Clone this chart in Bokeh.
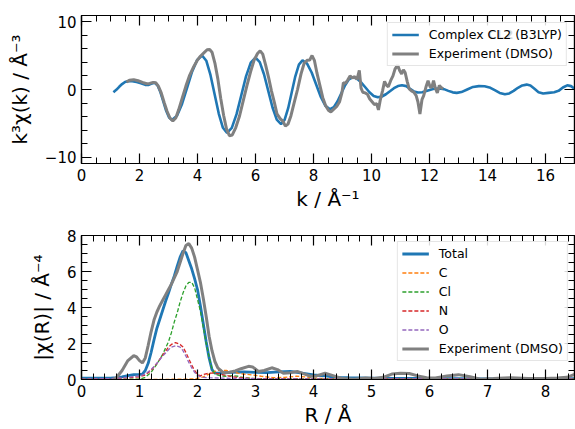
from bokeh.plotting import figure
from bokeh.models import LinearAxis, SingleIntervalTicker, Range1d, CustomJSTickFormatter, Label
from bokeh.layouts import column
from bokeh.embed import file_html
from bokeh.resources import INLINE

FONT = "DejaVu Sans"

# ---------------- top panel: k-space EXAFS ----------------
k_calc = [1.1, 1.2, 1.3, 1.4, 1.5, 1.63, 1.75, 1.9, 2.05, 2.2, 2.3, 2.4, 2.52,
          2.62, 2.72, 2.82, 2.92, 3.02, 3.12,
          3.293, 3.467, 3.64, 3.813, 3.987, 4.16,
          4.303, 4.447, 4.59, 4.733, 4.877, 5.02,
          5.183, 5.347, 5.51, 5.673, 5.837, 6.0,
          6.147, 6.293, 6.44, 6.587, 6.733, 6.88,
          7.003, 7.127, 7.25, 7.373, 7.497, 7.62,
          7.778, 7.937, 8.095, 8.253, 8.412, 8.57,
          8.7, 8.83, 8.96, 9.09, 9.22, 9.35,
          9.495, 9.64, 9.785, 9.93, 10.075, 10.22,
          10.358, 10.497, 10.635, 10.773, 10.912, 11.05,
          11.2, 11.33, 11.46, 11.6, 11.75, 11.95, 12.15, 12.35, 12.5, 12.65, 12.8,
          12.94, 13.1, 13.3, 13.5, 13.7, 13.9, 14.1, 14.25, 14.42, 14.6, 14.75,
          14.9, 15.05, 15.2, 15.35, 15.48, 15.62, 15.76, 15.92, 16.1, 16.3, 16.45,
          16.6, 16.75, 16.88, 17.0]
chi_calc = [-0.4, -0.05, 0.4, 0.8, 1.1, 1.26, 1.22, 1.1, 0.92, 0.68, 0.66, 0.85, 1.0,
            0.63, -0.38, -1.75, -3.13, -4.13, -4.5,
            -3.86, -2.13, 0.25, 2.63, 4.36, 5.0,
            4.24, 2.15, -0.7, -3.55, -5.64, -6.4,
            -5.66, -3.63, -0.85, 1.93, 3.96, 4.7,
            4.04, 2.25, -0.2, -2.65, -4.44, -5.1,
            -4.47, -2.75, -0.4, 1.95, 3.67, 4.3,
            3.82, 2.5, 0.7, -1.1, -2.42, -2.9,
            -2.59, -1.73, -0.55, 0.63, 1.49, 1.8,
            1.6, 1.06, 0.33, -0.41, -0.95, -1.15,
            -1.03, -0.7, -0.26, 0.19, 0.51, 0.63,
            0.5, 0.1, -0.28, -0.45, -0.4, -0.15, 0.1, 0.15, 0.05, -0.2, -0.42,
            -0.5, -0.38, 0.0, 0.38, 0.5, 0.47, 0.25, -0.1, -0.5, -0.7, -0.58,
            -0.2, 0.25, 0.6, 0.72, 0.58, 0.1, -0.4, -0.6, -0.5, -0.4, -0.2,
            0.3, 0.62, 0.5, 0.1]

k_exp = [1.55, 1.65, 1.8, 1.95, 2.1, 2.25, 2.35, 2.47, 2.56, 2.65, 2.75, 2.85, 2.95,
         3.05, 3.15, 3.25, 3.35, 3.47, 3.6, 3.72, 3.85, 3.98, 4.1, 4.22, 4.33, 4.42,
         4.5, 4.6, 4.7, 4.8, 4.9, 5.0, 5.1, 5.2, 5.32, 5.45, 5.58, 5.7, 5.83, 5.95,
         6.07, 6.16, 6.25, 6.35, 6.45, 6.55, 6.65, 6.74, 6.85, 6.95, 7.03, 7.12, 7.22,
         7.33, 7.45, 7.57, 7.68, 7.78, 7.87, 7.95, 8.03, 8.12, 8.22, 8.32, 8.42, 8.52,
         8.6, 8.7, 8.8, 8.9, 8.98, 9.03, 9.1, 9.18, 9.26, 9.34, 9.42, 9.5, 9.58, 9.64,
         9.7, 9.78, 9.86, 9.94, 10.02, 10.1, 10.18, 10.24, 10.3, 10.38, 10.45, 10.52,
         10.58, 10.66, 10.74, 10.81, 10.9, 10.97, 11.04, 11.1, 11.16, 11.23, 11.3,
         11.38, 11.46, 11.54, 11.6, 11.67, 11.74, 11.8, 11.88, 11.95, 12.02, 12.08,
         12.14, 12.2, 12.27, 12.34, 12.4, 12.47]
chi_exp = [1.1, 1.35, 1.45, 1.3, 1.05, 0.85, 0.9, 1.05, 1.0, 0.5, -0.5, -1.9, -3.2,
           -4.2, -4.65, -4.2, -3.0, -1.3, 0.5, 2.0, 3.2, 4.2, 4.9, 5.4, 5.85, 5.9,
           5.5, 3.9, 1.6, -1.3, -3.8, -5.8, -6.8, -6.7, -5.6, -3.9, -1.6, 0.5, 2.6, 4.3,
           5.3, 5.7, 5.2, 3.6, 1.8, -0.2, -1.9, -3.6, -4.3, -4.7, -5.4, -5.1, -3.9,
           -2.0, 0.0, 2.3, 3.9, 4.3, 4.35, 5.0, 4.3, 2.4, 0.6, -1.2, -2.4, -3.1,
           -3.3, -2.9, -2.5, -1.8, -0.5, 1.0, 0.9, 1.4, 2.0, 1.7, 1.9, 1.5, 2.8, 0.2,
           -0.4, -0.5, -0.7, -1.4, -1.8, -2.2, -2.1, -3.0, -1.6, -0.2, 1.2, 0.6,
           0.4, 1.3, 2.0, 3.0, 3.6, 2.8, 2.3, 2.9, 2.5, 1.2, 0.1,
           -0.2, -0.4, -0.9, -1.8, -3.6, -1.5, -0.9, 0.4, 1.3, 0.4, 0.3,
           1.3, 0.2, -0.5, 0.6, 0.3, 0.1]

# ---------------- bottom panel: R-space ----------------
r_tot = [0.0, 0.5, 0.6, 0.7, 0.8, 0.9, 1.0, 1.05, 1.1, 1.15, 1.2, 1.25, 1.3, 1.35,
         1.4, 1.45, 1.5, 1.55, 1.6, 1.65, 1.7, 1.75, 1.8, 1.85, 1.9, 1.95, 2.0,
         2.05, 2.1, 2.15, 2.2, 2.25, 2.3, 2.4, 2.6, 2.8, 3.0, 3.2, 3.4, 3.6, 3.8,
         4.0, 4.2, 4.4, 4.6, 5.0, 5.4, 6.0, 7.0, 8.0, 8.5]
v_tot = [0.08, 0.08, 0.1, 0.15, 0.22, 0.27, 0.28, 0.3, 0.5, 0.9, 1.5, 2.2, 2.85, 3.35,
         3.85, 4.35, 4.8, 5.3, 5.75, 6.3, 6.8, 7.15, 7.05, 6.6, 6.15, 5.6, 5.0,
         4.1, 3.1, 2.1, 1.2, 0.55, 0.35, 0.35, 0.4, 0.42, 0.4, 0.38, 0.42, 0.45, 0.35,
         0.25, 0.2, 0.12, 0.1, 0.08, 0.06, 0.06, 0.04, 0.04, 0.05]

r_c = [0.0, 1.5, 1.9, 2.0, 2.1, 2.2, 2.3, 2.4, 2.5, 2.6, 2.7, 2.8, 2.9, 3.1, 3.3,
       3.5, 3.7, 3.85, 4.0, 4.3, 5.0, 8.5]
v_c = [0.0, 0.01, 0.03, 0.06, 0.15, 0.3, 0.45, 0.52, 0.5, 0.42, 0.35, 0.3, 0.27,
       0.18, 0.1, 0.12, 0.18, 0.15, 0.08, 0.04, 0.02, 0.01]

r_cl = [0.0, 1.0, 1.1, 1.2, 1.3, 1.4, 1.5, 1.55, 1.6, 1.65, 1.7, 1.75, 1.8, 1.85,
        1.9, 1.95, 2.0, 2.05, 2.1, 2.15, 2.2, 2.25, 2.3, 2.4, 2.5, 2.6, 2.7, 2.8,
        3.0, 3.5, 4.0, 5.0, 8.5]
v_cl = [0.0, 0.02, 0.12, 0.4, 0.85, 1.4, 2.1, 2.6, 3.2, 3.7, 4.3, 4.8, 5.2, 5.4,
        5.4, 5.1, 4.45, 3.8, 2.9, 2.0, 1.25, 0.6, 0.3, 0.2, 0.18, 0.22, 0.18, 0.1,
        0.05, 0.04, 0.03, 0.02, 0.02]

r_n = [0.0, 0.5, 0.8, 1.0, 1.1, 1.2, 1.3, 1.4, 1.5, 1.55, 1.62, 1.7, 1.75, 1.8,
       1.85, 1.9, 1.95, 2.0, 2.05, 2.1, 2.2, 2.3, 2.4, 2.5, 2.6, 2.8, 3.0, 3.5,
       4.0, 8.5]
v_n = [0.02, 0.05, 0.1, 0.15, 0.25, 0.5, 0.9, 1.35, 1.8, 1.95, 2.05, 1.95, 1.8, 1.5,
       1.15, 0.8, 0.5, 0.28, 0.2, 0.28, 0.35, 0.35, 0.3, 0.22, 0.15, 0.08, 0.05,
       0.05, 0.03, 0.02]

r_o = [0.0, 0.5, 0.8, 1.0, 1.1, 1.2, 1.3, 1.4, 1.5, 1.55, 1.63, 1.7, 1.75, 1.8,
       1.85, 1.9, 1.95, 2.0, 2.1, 2.2, 2.4, 2.6, 3.0, 8.5]
v_o = [0.02, 0.05, 0.12, 0.2, 0.3, 0.55, 0.9, 1.3, 1.65, 1.8, 1.88, 1.8, 1.6, 1.3,
       0.95, 0.65, 0.4, 0.22, 0.12, 0.1, 0.08, 0.06, 0.04, 0.02]

r_exp = [0.55, 0.6, 0.7, 0.8, 0.9, 0.95, 1.0, 1.05, 1.1, 1.15, 1.2, 1.25, 1.3, 1.35,
         1.4, 1.45, 1.5, 1.55, 1.6, 1.65, 1.7, 1.75, 1.8, 1.85, 1.9, 1.95, 2.0,
         2.05, 2.1, 2.15, 2.2, 2.25, 2.3, 2.35, 2.45, 2.55, 2.65, 2.75, 2.88, 2.95,
         3.05, 3.15, 3.28, 3.38, 3.48, 3.6, 3.72, 3.85, 3.95, 4.05, 4.2, 4.35, 4.5,
         4.7, 4.9, 5.05, 5.2, 5.35, 5.5, 5.65, 5.8, 5.95, 6.1, 6.3, 6.5, 6.7, 6.88,
         7.1, 7.4, 7.7, 8.0, 8.2, 8.37, 8.5]
v_exp = [0.0, 0.1, 0.5, 1.05, 1.32, 1.25, 1.05, 0.92, 1.2, 1.9, 2.65, 3.3, 3.75, 4.1,
         4.4, 4.7, 5.0, 5.3, 5.65, 6.0, 6.5, 7.0, 7.45, 7.55, 7.3, 6.8, 6.1,
         5.4, 4.5, 3.5, 2.4, 1.6, 1.0, 0.65, 0.37, 0.4, 0.48, 0.6, 0.73, 0.7,
         0.45, 0.5, 0.65, 0.55, 0.35, 0.38, 0.45, 0.3, 0.18, 0.2, 0.35, 0.2, 0.05,
         0.02, 0.09, 0.05, 0.12, 0.3, 0.35, 0.33, 0.2, 0.1, 0.08, 0.2, 0.27, 0.15, 0.02,
         0.05, 0.1, 0.06, 0.05, 0.08, 0.12, 0.28]

BLUE = "#1f77b4"
ORANGE = "#ff7f0e"
GREEN = "#2ca02c"
RED = "#d62728"
PURPLE = "#9467bd"
GRAY = "#808080"

BLANK = CustomJSTickFormatter(code="return ''")


def style_axes(p, xint, xminor, yint, yminor, xlabel, ylabel, overrides=None):
    xt = SingleIntervalTicker(interval=xint, num_minor_ticks=xminor)
    yt = SingleIntervalTicker(interval=yint, num_minor_ticks=yminor)
    p.xaxis.ticker = xt
    p.yaxis.ticker = yt
    p.xaxis.axis_label = xlabel
    p.yaxis.axis_label = ylabel
    if overrides:
        p.yaxis.major_label_overrides = overrides
    for ax in (p.xaxis[0], p.yaxis[0]):
        ax.major_tick_in = 10
        ax.major_tick_out = 0
        ax.minor_tick_in = 6
        ax.minor_tick_out = 0
        ax.major_tick_line_color = "black"
        ax.minor_tick_line_color = "black"
        ax.major_tick_line_width = 1.2
        ax.minor_tick_line_width = 1.0
        ax.axis_line_color = "black"
        ax.axis_line_width = 1.2
        ax.major_label_text_font = FONT
        ax.major_label_text_font_size = "15px"
        ax.major_label_text_color = "black"
        ax.major_label_standoff = 5
        ax.axis_label_text_font = FONT
        ax.axis_label_text_font_size = "20px"
        ax.axis_label_text_font_style = "normal"
        ax.axis_label_text_color = "black"
        ax.axis_label_standoff = 3
    p.yaxis.axis_label_standoff = 10
    for side, tk in (("above", xt), ("right", yt)):
        ax = LinearAxis(ticker=tk, formatter=BLANK, major_tick_in=10, major_tick_out=0,
                        minor_tick_in=6, minor_tick_out=0,
                        major_tick_line_color="black", minor_tick_line_color="black",
                        major_tick_line_width=1.2, minor_tick_line_width=1.0,
                        axis_line_color="black", axis_line_width=1.2,
                        major_label_text_font_size="8px", major_label_standoff=0)
        p.add_layout(ax, side)
    p.xgrid.visible = False
    p.ygrid.visible = False
    p.outline_line_color = "black"
    p.outline_line_width = 1.2
    p.background_fill_color = "white"
    p.border_fill_color = "white"


def style_legend(p, margin):
    lg = p.legend[0]
    lg.location = "top_right"
    lg.margin = margin
    lg.padding = 4
    lg.spacing = 4
    lg.glyph_width = 27
    lg.glyph_height = 15
    lg.label_height = 15
    lg.label_standoff = 10
    lg.label_text_font = FONT
    lg.label_text_font_size = "12.5px"
    lg.label_text_color = "black"
    lg.border_line_color = "#cccccc"
    lg.border_line_width = 1
    lg.background_fill_alpha = 0.85


top = figure(width=575, height=220, x_range=Range1d(0, 17), y_range=Range1d(-10.9, 10.9),
             output_backend="svg", toolbar_location=None,
             min_border_left=81, min_border_right=1, min_border_top=15, min_border_bottom=57)
top.line(k_calc, chi_calc, line_color=BLUE, line_width=2.6, legend_label="Complex CL2 (B3LYP)")
top.line(k_exp, chi_exp, line_color=GRAY, line_width=3.0, legend_label="Experiment (DMSO)")
style_axes(top, 2, 4, 10, 5, "k / Å⁻¹", "k³χ(k) / Å⁻³", overrides={-10: "\u221210"})
style_legend(top, 7)
# bold compound name laid over the plain one inside the legend entry
top.add_layout(Label(x=14.0, y=8.17, text="CL2", text_font=FONT, text_font_size="12.5px",
                     text_font_style="bold", text_color="black", text_baseline="middle",
                     text_align="left", background_fill_color="white"))

bot = figure(width=575, height=209, x_range=Range1d(0, 8.5), y_range=Range1d(0, 8),
             output_backend="svg", toolbar_location=None,
             min_border_left=81, min_border_right=1, min_border_top=15, min_border_bottom=47)
bot.line(r_tot, v_tot, line_color=BLUE, line_width=2.8, legend_label="Total")
bot.line(r_c, v_c, line_color=ORANGE, line_width=1.3, line_dash="4 2", legend_label="C")
bot.line(r_cl, v_cl, line_color=GREEN, line_width=1.3, line_dash="4 2", legend_label="Cl")
bot.line(r_n, v_n, line_color=RED, line_width=1.3, line_dash="4 2", legend_label="N")
bot.line(r_o, v_o, line_color=PURPLE, line_width=1.3, line_dash="4 2", legend_label="O")
bot.line(r_exp, v_exp, line_color=GRAY, line_width=3.0, legend_label="Experiment (DMSO)")
style_axes(bot, 1, 5, 2, 4, "R / Å", "|χ(R)| / Å⁻⁴")
style_legend(bot, 6)

layout = column(top, bot, spacing=0)
open("out.html", "w").write(file_html(layout, INLINE))
